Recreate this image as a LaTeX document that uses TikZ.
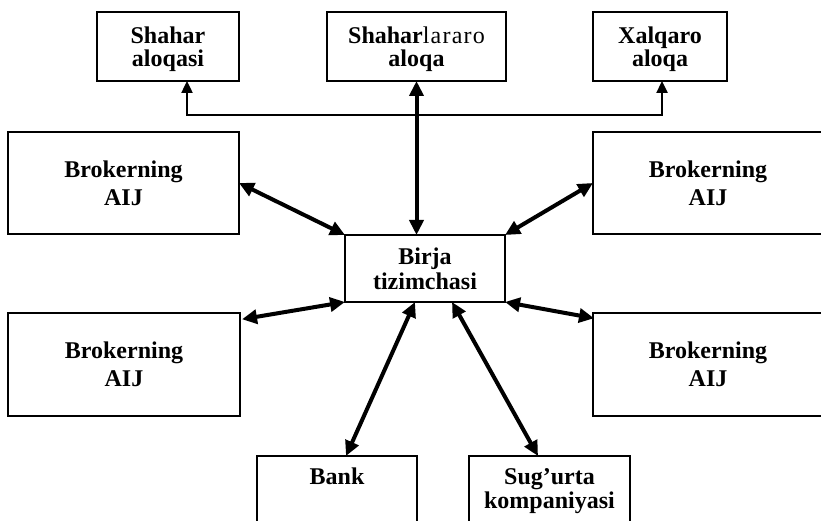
\documentclass[tikz,border=0pt]{standalone}
\usepackage{fontspec}
\setmainfont{Liberation Serif}
\usetikzlibrary{arrows.meta,calc}
\tikzset{
  box/.style={draw=black, line width=2.2pt, rectangle, outer sep=0pt, inner sep=0pt,
    align=center, text depth=0pt, font=\bfseries\fontsize{24}{24.5}\selectfont},
  topbox/.style={box, minimum height=69, font=\bfseries\fontsize{24}{23.5}\selectfont},
  brokbox/.style={box, minimum height=102.5, font=\bfseries\fontsize{24}{28}\selectfont},
  lowbox/.style={box, anchor=north, text depth=60pt, inner ysep=12pt, font=\bfseries\fontsize{24}{24}\selectfont},
  bigarr/.style={line width=4pt, {Triangle[length=15pt,width=14pt]}-{Triangle[length=15pt,width=14pt]}},
  smallarr/.style={line width=2.4pt, {Triangle[length=12pt,width=11pt]}-{Triangle[length=12pt,width=11pt]}}
}
\begin{document}
\begin{tikzpicture}[x=1pt,y=-1pt]
\useasboundingbox (0,0) rectangle (821,521);
\clip (0,0) rectangle (821,521);
% top boxes
\node[topbox, minimum width=142] (shahar) at (168,46.5) {Shahar\\aloqasi};
\node[topbox, minimum width=179] (shlar) at (416.5,46.5) {Shahar{\mdseries\addfontfeature{LetterSpace=5}lararo}\\aloqa};
\node[topbox, minimum width=134] (xalq) at (660,46.5) {Xalqaro\\aloqa};
% brokers
\node[brokbox, minimum width=231] (btl) at (123.5,183) {Brokerning\\AIJ};
\node[brokbox, minimum width=230] (btr) at (708,183) {Brokerning\\AIJ};
\node[brokbox, minimum width=232] (bbl) at (124,364.5) {Brokerning\\AIJ};
\node[brokbox, minimum width=230] (bbr) at (708,364.5) {Brokerning\\AIJ};
% centre
\node[box, minimum width=160, minimum height=67] (birja) at (425,268.5) {Birja\\tizimchasi};
% bottom
\node[lowbox, minimum width=160, text height=16pt] (bank) at (337,456) {Bank};
\node[lowbox, minimum width=161, text height=40pt] (sug) at (549.5,456) {Sug’urta\\kompaniyasi};
% connectors
\coordinate (hl) at (187,115);
\coordinate (hr) at (662,115);
\draw[smallarr] (hl |- shahar.south) -- (hl) -- (hr) -- (hr |- xalq.south);
\draw[bigarr] (shlar.south) -- (shlar.south |- birja.north);
\draw[bigarr] (btl.east) -- (birja.north west);
\draw[bigarr] (btr.west) -- (birja.north east);
\draw[bigarr] ($(bbl.north east)+(2,6)$) -- (birja.south west);
\draw[bigarr] ($(bbr.north west)+(1,5)$) -- (birja.south east);
\draw[bigarr] ($(birja.south)+(-10,0)$) -- ($(bank.north)+(9,0)$);
\draw[bigarr] ($(birja.south)+(27,0)$) -- ($(sug.north)+(-11.5,0)$);
\end{tikzpicture}
\end{document}
